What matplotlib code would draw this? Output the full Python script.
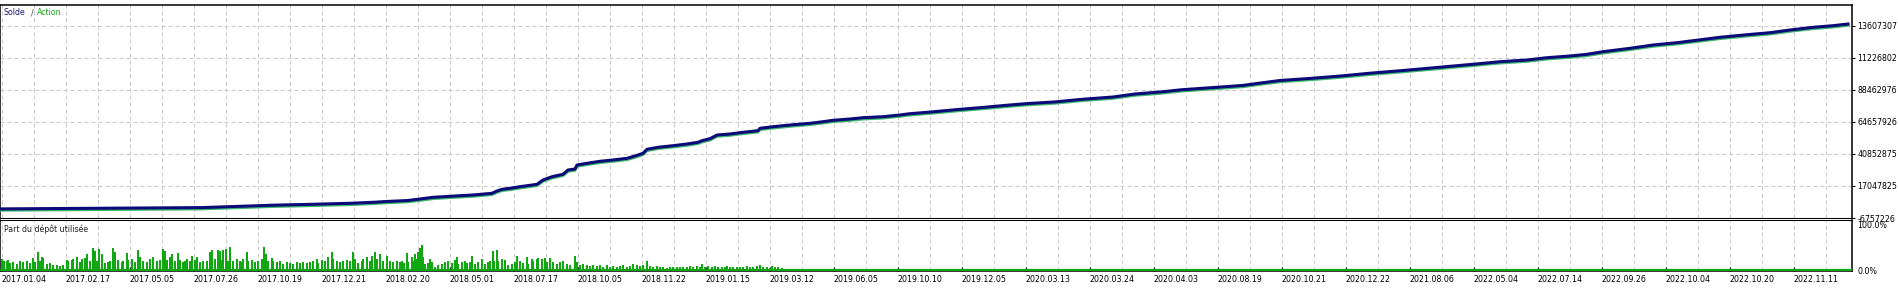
import numpy as np
import matplotlib
matplotlib.use('Agg')
import matplotlib.pyplot as plt
from matplotlib import transforms

# ---------------- data ----------------
# deal position along the x axis and balance (millions)
deal_x = [0, 202, 231, 273, 316, 353, 375, 386, 408, 420, 433, 455, 473, 492, 497, 502, 510, 520,
          537, 543, 552, 563, 568, 575, 577, 587, 600, 613, 627, 635, 643, 647, 658, 673, 687, 698,
          702, 710, 717, 730, 743, 758, 760, 773, 790, 810, 823, 833, 850, 863, 883, 900, 909, 933,
          958, 982, 1004, 1027, 1055, 1082, 1113, 1135, 1160, 1182, 1211, 1243, 1260, 1280, 1313,
          1343, 1370, 1402, 1439, 1476, 1500, 1527, 1547, 1570, 1587, 1603, 1630, 1653, 1677, 1693,
          1720, 1747, 1770, 1790, 1813, 1833, 1848]
balance_m = [0.01, 0.98, 1.72, 2.77, 3.51, 4.25, 5.0, 5.52, 6.26, 7.38, 8.64, 9.61, 10.35, 11.62,
             13.33, 14.6, 15.34, 16.53, 18.31, 21.51, 23.97, 25.75, 28.95, 29.69, 32.67, 33.93,
             35.42, 36.39, 37.65, 39.37, 41.37, 44.35, 45.84, 47.03, 48.29, 49.56, 50.75, 52.23,
             54.99, 55.73, 57.0, 58.19, 59.97, 61.16, 62.43, 63.69, 64.88, 65.92, 66.89, 67.86,
             68.6, 69.87, 70.76, 72.24, 73.96, 75.44, 76.93, 78.35, 79.61, 81.54, 83.25, 85.49,
             86.97, 88.68, 90.17, 91.88, 93.6, 95.53, 97.24, 99.03, 100.96, 102.9, 105.35, 107.8,
             109.51, 110.78, 112.49, 113.76, 115.02, 116.95, 119.48, 121.94, 123.65, 125.14,
             127.67, 129.6, 131.09, 133.1, 135.1, 136.3, 137.56]

# deposit load (%) per deal position
usage_x = [1.7, 4, 6.7, 8.3, 10, 13.3, 16.7, 20, 23.3, 26.7, 30, 33.3, 35, 38.3, 40, 41.7, 43.3, 46.7,
           50, 53.3, 56.7, 60, 63.3, 66.7, 68.3, 71.7, 73.3, 76.7, 80, 81.7, 85, 87.3, 90, 93.3, 95,
           97.3, 99.3, 101.7, 105, 108.3, 110, 113.3, 115, 118.3, 121.7, 123.3, 126.7, 128.3, 131.7,
           135, 138.3, 140, 143.3, 146.7, 150, 153.3, 156.7, 160, 162.7, 165, 166.7, 170, 171.7, 175,
           178.3, 180, 183.3, 185, 186.7, 190, 191.7, 195, 196.7, 200, 203.3, 206.7, 210, 211.7, 215,
           218.3, 220, 221.7, 223.3, 226, 228.3, 230, 233.3, 236.7, 240, 241.7, 243.3, 246.7, 248.3,
           251.7, 255, 258.3, 261.7, 264, 266, 268.3, 271.7, 273.3, 276.7, 280, 283.3, 286.7, 290,
           293.3, 296.7, 300, 303.3, 306.7, 310, 313.3, 316.7, 318.3, 321.7, 325, 328.3, 331.7, 333.3,
           336.7, 340, 343.3, 346.7, 350, 353.3, 355, 358.3, 361.7, 363.3, 366.7, 370, 371.7, 375,
           376.7, 380, 383.3, 386.7, 390, 393.3, 396.7,
           400, 401.7, 404, 406.7, 408.3, 411.7, 413.3, 415, 416.7, 418.3, 420, 421.7, 423.3, 425,
           428.3, 430, 431.7, 435, 438.3, 441.7, 445, 448.3, 451.7, 455, 456.7, 458.3, 461.7, 465,
           466.7, 470, 471.7, 475, 478.3, 481.7, 485, 488.3, 490, 492.7, 494.3, 496.7, 498.3, 501.7,
           505, 508.3, 511.7, 515, 517.3, 520, 523.3, 526.7, 528.3, 531.7, 533.3, 536.7, 538.3, 541.7,
           545, 546.7, 550, 553.3, 556.7, 560, 563.3, 566.7, 570, 575, 576.7, 580, 583.3, 586.7, 590,
           593.3, 596.7, 600, 603.3, 606.7, 610, 613.3, 616.7, 620, 623.3, 626.7, 630, 633.3, 636.7,
           640, 643.3, 646.7, 650, 653.3, 656.7, 660, 663.3, 666.7, 670, 673.3, 676.7, 680, 683.3,
           686.7, 690, 693.3, 696.7, 700, 701.7, 705, 708.3, 711.7, 715, 718.3, 721.7, 725, 726.7,
           730, 733.3, 736.7, 740, 743.3, 746.7, 750, 753.3, 756.7, 760, 763.3, 766.7, 770, 771.7,
           775, 778.3, 781.7]
usage_pct = [24, 21, 19, 22, 15, 17, 13, 19, 17, 21, 16, 27, 17, 41, 21, 30, 27, 13,
             15, 12, 11, 10, 12, 23, 21, 22, 24, 30, 17, 24, 27, 36, 21, 49, 43,
             21, 47, 36, 15, 17, 21, 50, 41, 22, 17, 21, 37, 22, 24,
             17, 44, 28, 21, 17, 24, 30, 21, 22, 47, 43, 22, 28, 36, 21,
             37, 22, 17, 21, 24, 21, 32, 22, 30, 17, 21, 19, 41, 44, 24,
             44, 43, 22, 44, 47, 21, 52, 21, 24, 21, 17, 24, 39, 21,
             22, 17, 21, 24, 52, 36, 21, 27, 21, 17, 19, 13, 17, 15,
             13, 17, 15, 17, 15, 17, 21, 24, 15, 22, 21, 28, 41, 24,
             21, 17, 21, 22, 21, 39, 24, 15, 21, 24, 30, 21, 32, 41,
             24, 36, 21, 32, 21, 17, 21,
             17, 21, 15, 37, 17, 28, 21, 36, 24, 39, 50, 56, 28, 13,
             15, 24, 17, 7, 12, 13, 17, 19, 15, 22, 30, 13, 17, 19,
             15, 17, 32, 13, 17, 24, 13, 17, 19, 43, 21, 44, 21, 24,
             22, 12, 13, 17, 32, 21, 15, 28, 13, 24, 21, 24, 27, 24,
             27, 17, 27, 17, 13, 17, 19, 13, 12, 32, 17, 12, 13, 11, 10,
             12, 10, 11, 7, 12, 7, 10, 6, 8, 12, 7, 10, 13, 12,
             10, 12, 19, 10, 7, 10, 6, 7, 4, 7, 6, 7, 6, 7,
             6, 8, 6, 10, 7, 13, 6, 9, 7, 10, 6, 7, 6, 8,
             6, 7, 6, 7, 6, 8, 6, 7, 10, 11, 6, 7, 4, 10,
             7, 6, 4]

date_labels = ['2017.01.04', '2017.02.17', '2017.05.05', '2017.07.26', '2017.10.19', '2017.12.21',
               '2018.02.20', '2018.05.01', '2018.07.17', '2018.10.05', '2018.11.22', '2019.01.15',
               '2019.03.12', '2019.06.05', '2019.10.10', '2019.12.05', '2020.03.13', '2020.03.24',
               '2020.04.03', '2020.08.19', '2020.10.21', '2020.12.22', '2021.08.06', '2022.05.04',
               '2022.07.14', '2022.09.26', '2022.10.04', '2022.10.20', '2022.11.11']
y_tick_values = [136073076, 112268026, 88462976, 64657926, 40852875, 17047825, -6757226]
y_tick_labels = ['13607307', '11226802', '88462976', '64657926', '40852875', '17047825', '-6757226']
usage_ticks = [0, 100]
usage_tick_labels = ['0.0%', '100.0%']

# ---------------- style ----------------
plt.rcParams['font.family'] = ['DejaVu Sans']
FS = 5.7
W, H = 1899, 288
NAVY = '#0a0a78'
EQ_GREEN = '#3cb86a'
BAR_GREEN = '#10a810'
GRID = '#c8c8c8'

fig = plt.figure(figsize=(W / 100, H / 100), dpi=100)
fig.patch.set_facecolor('white')

left_px, right_px = 0.5, 1851.7
ax = fig.add_axes([left_px / W, 1 - 218 / H, (right_px - left_px) / W, (218 - 4.7) / H])
ax2 = fig.add_axes([left_px / W, 1 - 271 / H, (right_px - left_px) / W, 51 / H])

major = [1.7 + 64 * k for k in range(len(date_labels))]
minor = [33.7 + 64 * k for k in range(len(date_labels))]

for a in (ax, ax2):
    a.set_xlim(left_px, right_px)
    a.set_axisbelow(True)
    for s in a.spines.values():
        s.set_linewidth(1.1)
        s.set_color('black')
    a.set_xticks(major)
    a.set_xticks(minor, minor=True)
    a.grid(True, axis='x', which='both', color=GRID, lw=0.72, ls=(0, (4, 3)))
ax.spines['bottom'].set_linewidth(0.75)
ax2.spines['top'].set_linewidth(0.75)

# main panel
bal = np.array(balance_m) * 1e6
ymin = -6757226
ymax = ymin + (218 - 4.7) / 32 * 23805050
ax.set_ylim(ymin, ymax)
off = transforms.offset_copy(ax.transData, fig=fig, x=0, y=-1.4, units='dots')
ax.plot(deal_x, bal, color=EQ_GREEN, lw=2.0, transform=off, zorder=3)
ax.plot(deal_x, bal, color=NAVY, lw=2.2, zorder=4)
ax.yaxis.tick_right()
ax.set_yticks(y_tick_values)
ax.set_yticklabels(y_tick_labels)
ax.tick_params(axis='y', direction='out', length=2, pad=2, labelsize=FS, width=0.8)
ax.tick_params(axis='x', which='both', length=0, labelbottom=False)
ax.grid(True, axis='y', color=GRID, lw=0.72, ls=(0, (4, 3)))

# usage panel
ax2.set_ylim(-100 / 45, 100 * 50 / 45)
ax2.bar(usage_x, usage_pct, width=2.2, color=BAR_GREEN, linewidth=0, align='center', zorder=3)
ax2.axhline(0, color=BAR_GREEN, lw=1.6, zorder=3)
ax2.yaxis.tick_right()
ax2.set_yticks(usage_ticks)
ax2.set_yticklabels(usage_tick_labels)
ax2.tick_params(axis='y', length=0, pad=4, labelsize=FS)
ax2.set_xticklabels(date_labels, ha='left')
ax2.tick_params(axis='x', which='major', direction='in', length=3, pad=3, labelsize=FS, width=0.8)
ax2.tick_params(axis='x', which='minor', length=0)

# captions
def ftxt(x, y, s, c):
    fig.text(x / W, 1 - y / H, s, color=c, fontsize=FS, ha='left', va='center')

ftxt(4, 12.5, 'Solde', '#1a1a7a')
ftxt(31, 12.5, '/', '#444444')
ftxt(37, 12.5, 'Action', '#1aa51a')
ftxt(4, 229.5, 'Part du dépôt utilisée', '#222222')

fig.savefig('out.png', dpi=100, facecolor='white')
